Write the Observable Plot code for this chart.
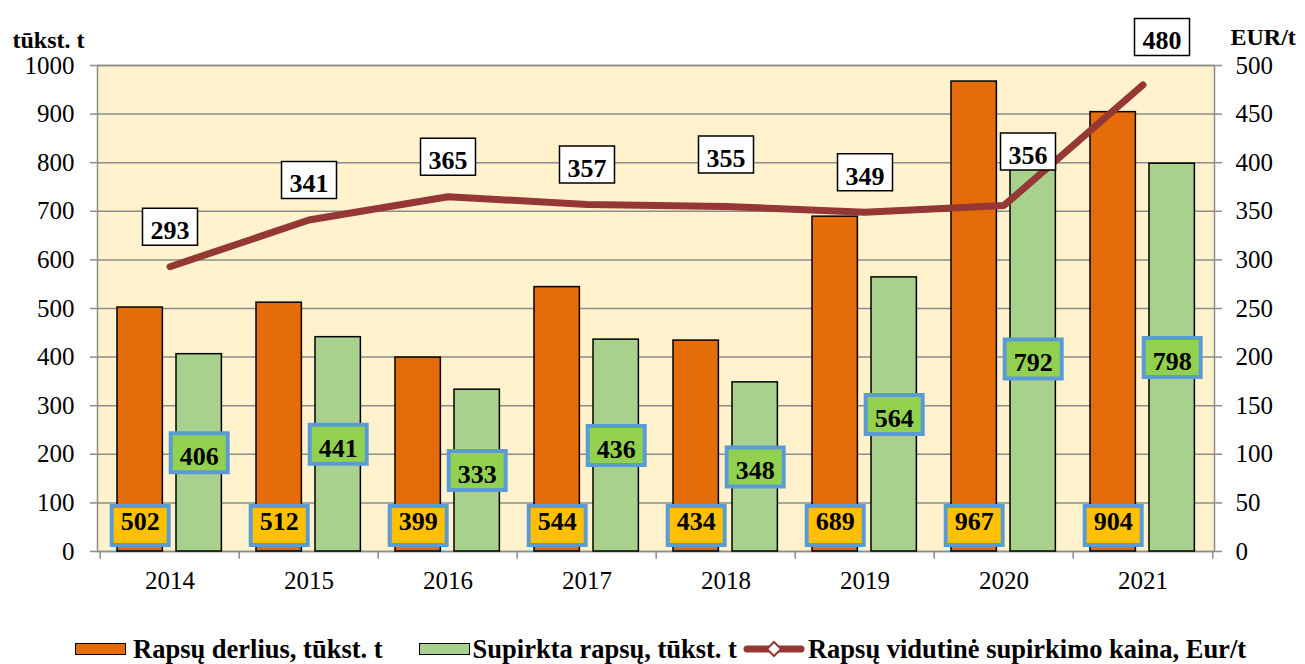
<!DOCTYPE html>
<html><head><meta charset="utf-8">
<script src="https://cdn.jsdelivr.net/npm/d3@7"></script>
<script src="https://cdn.jsdelivr.net/npm/@observablehq/plot@0.6"></script>
<style>
html,body{margin:0;padding:0;background:#fff;}
body{font-family:"Liberation Serif","Times New Roman",serif;width:1305px;height:664px;overflow:hidden;}
#legend{display:flex;align-items:center;height:30px;margin-top:14px;padding-left:75px;font-weight:bold;font-size:26.5px;white-space:nowrap;color:#000;}
#legend .sw{display:inline-block;width:49px;height:10px;border:1.5px solid #000;margin-right:7px;}
#legend .item{display:flex;align-items:center;margin-right:36px;}
#legend svg{margin-right:3px;}
</style></head><body>
<div id="chart"></div>
<div id="legend"></div>
<script>
const years = ["2014","2015","2016","2017","2018","2019","2020","2021"];
const harvest = [502, 512, 399, 544, 434, 689, 967, 904];
const purchased = [406, 441, 333, 436, 348, 564, 792, 798];
const price = [293, 341, 365, 357, 355, 349, 356, 480];
const leftTicks = [0,100,200,300,400,500,600,700,800,900,1000];
const rightTicks = [0,50,100,150,200,250,300,350,400,450,500];
const seriesNames = ["Rapsų derlius, tūkst. t", "Supirkta rapsų, tūkst. t", "Rapsų vidutinė supirkimo kaina, Eur/t"];
const leftUnit = "tūkst. t";
const rightUnit = "EUR/t";

const colors = {harvest:"#E46C0A", purchased:"#A9D18E", line:"#953735", bg:"#FFF2CC", grid:"#8C8C8C",
  hLabel:"#FFC000", pLabel:"#92D050", labelBorder:"#5B9BD5"};

const W = 1305, H = 620, mL = 97, mR = 91, mT = 65, mB = H - 551;
const bw = (W - mL - mR) / years.length;
const k = leftTicks[leftTicks.length-1] / rightTicks[rightTicks.length-1];
const rows = years.map((year, i) => ({year, harvest: harvest[i], purchased: purchased[i], price: price[i]}));

const serif = '"Liberation Serif","Times New Roman",serif';
const font = {fontSize: 25, fontFamily: serif};
const bold = {fontSize: 26, fontWeight: "bold", fill: "#000", fontFamily: serif};
const textShift = 4; // visual centring of digits inside boxes
const boxSymbol = (w, h) => ({draw(ctx) { ctx.rect(-w / 2, -h / 2, w, h); }});
const valueBox = (fill) => ({symbol: boxSymbol(57, 39), r: 10, fill, stroke: colors.labelBorder, strokeWidth: 4});
const priceBox = {symbol: boxSymbol(55, 37), r: 10, fill: "#fff", stroke: "#000", strokeWidth: 1.5};

// price label nudges (pixels)
const priceNudge = {"2018": [0, -52], "2020": [24, -54], "2021": [19, -48]};
const priceMarks = [];
for (const grp of [["2014","2015","2016","2017","2019"], ["2018"], ["2020"], ["2021"]]) {
  const [dx, dy] = priceNudge[grp[0]] || [0, -40];
  const opts = {filter: d => grp.includes(d.year), x: "year", y: d => d.price * k, dx};
  priceMarks.push(Plot.dot(rows, {...opts, dy, ...priceBox}));
  priceMarks.push(Plot.text(rows, {...opts, dy: dy + textShift, text: "price", ...bold}));
}

const plot = Plot.plot({
  width: W, height: H,
  marginLeft: mL, marginRight: mR, marginTop: mT, marginBottom: mB,
  style: {fontFamily: serif, background: "transparent", overflow: "visible"},
  x: {type: "band", domain: years, padding: 0},
  y: {domain: [0, 1000]},
  marks: [
    Plot.frame({fill: colors.bg}),
    Plot.gridY(leftTicks, {stroke: colors.grid, strokeOpacity: 1, strokeWidth: 1.5}),
    Plot.frame({stroke: colors.grid, strokeWidth: 1.5}),
    Plot.barY(rows, {x: "year", y: "harvest", fill: colors.harvest, stroke: "#000", strokeWidth: 1.5,
      insetLeft: 17, insetRight: bw - 63}),
    Plot.barY(rows, {x: "year", y: "purchased", fill: colors.purchased, stroke: "#000", strokeWidth: 1.5,
      insetLeft: 76, insetRight: bw - 122}),
    Plot.axisY({ticks: leftTicks, tickFormat: d => String(d), tickSize: 7, tickPadding: 16, label: null,
      stroke: colors.grid, strokeWidth: 1.5, ...font}),
    Plot.axisY({anchor: "right", ticks: rightTicks.map(v => v * k), tickFormat: d => String(d / k), tickSize: 7, tickPadding: 14,
      label: null, stroke: colors.grid, strokeWidth: 1.5, ...font}),
    Plot.axisX({tickSize: 0, tickPadding: 20, label: null, ...font}),
    Plot.ruleX(rows, {x: "year", dx: -bw / 2, y1: 0, y2: -16, stroke: colors.grid, strokeWidth: 1.5}),
    Plot.ruleX(rows.slice(-1), {x: "year", dx: bw / 2, y1: 0, y2: -16, stroke: colors.grid, strokeWidth: 1.5}),
    Plot.line(rows, {x: "year", y: d => d.price * k, stroke: colors.line, strokeWidth: 7,
      strokeLinecap: "round", strokeLinejoin: "round"}),
    Plot.dot(rows, {x: "year", frameAnchor: "bottom", dx: -(bw / 2 - 40), dy: -26, ...valueBox(colors.hLabel)}),
    Plot.text(rows, {x: "year", frameAnchor: "bottom", text: "harvest", dx: -(bw / 2 - 40), dy: -26 + textShift, ...bold}),
    Plot.dot(rows, {x: "year", y: d => d.purchased / 2, dx: 99 - bw / 2, ...valueBox(colors.pLabel)}),
    Plot.text(rows, {x: "year", y: d => d.purchased / 2, text: "purchased", dx: 99 - bw / 2, dy: textShift, ...bold}),
    ...priceMarks,
    Plot.text([leftUnit], {frameAnchor: "top-left", text: d => d, dx: -85, dy: -35, textAnchor: "start",
      fontWeight: "bold", fontSize: 24, fill: "#000", fontFamily: serif}),
    Plot.text([rightUnit], {frameAnchor: "top-right", text: d => d, dx: 16, dy: -38, textAnchor: "start",
      fontWeight: "bold", fontSize: 24, fill: "#000", fontFamily: serif})
  ]
});
document.getElementById("chart").appendChild(plot);

// legend
const leg = document.getElementById("legend");
const mk = (html) => { const d = document.createElement("div"); d.className = "item"; d.innerHTML = html; leg.appendChild(d); return d; };
mk(`<span class="sw" style="background:${colors.harvest}"></span><span>${seriesNames[0]}</span>`);
const it2 = mk(`<span class="sw" style="background:${colors.purchased};margin-right:3px"></span><span>${seriesNames[1]}</span>`);
it2.style.marginRight = "6px";
mk(`<svg width="62" height="20"><line x1="4" y1="10" x2="58" y2="10" stroke="${colors.line}" stroke-width="7" stroke-linecap="round"/>` +
   `<path d="M31,3 L38,10 L31,17 L24,10 Z" fill="#fff" stroke="${colors.line}" stroke-width="2"/></svg><span>${seriesNames[2]}</span>`);
</script>
</body></html>
